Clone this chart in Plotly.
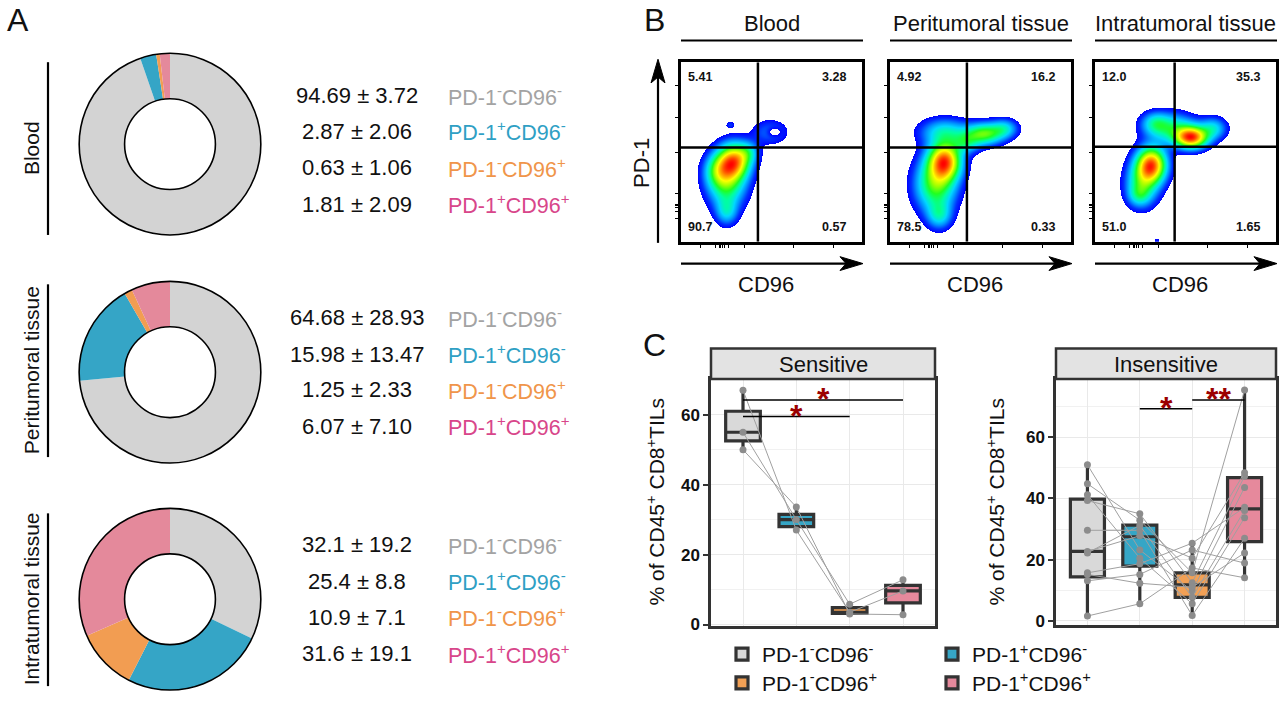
import numpy as np
import plotly.graph_objects as go

W, H = 1280, 704
def fx(px): return px / W
def fy(py): return 1 - py / H

FONT = "Liberation Sans, Arial, sans-serif"

# ---------------- Panel A data ----------------
subsets = ["PD-1<sup>-</sup>CD96<sup>-</sup>", "PD-1<sup>+</sup>CD96<sup>-</sup>",
           "PD-1<sup>-</sup>CD96<sup>+</sup>", "PD-1<sup>+</sup>CD96<sup>+</sup>"]
tissues = ["Blood", "Peritumoral tissue", "Intratumoral tissue"]
blood_mean = [94.69, 2.87, 0.63, 1.81]
blood_sd = [3.72, 2.06, 1.06, 2.09]
peri_mean = [64.68, 15.98, 1.25, 6.07]
peri_sd = [28.93, 13.47, 2.33, 7.10]
intra_mean = [32.1, 25.4, 10.9, 31.6]
intra_sd = [19.2, 8.8, 7.1, 19.1]
decimals = [2, 2, 1]

slice_colors = ["#d3d3d3", "#35a5c6", "#f29d52", "#e4899b"]
label_colors = ["#a3a3a3", "#2fa0c4", "#f0954a", "#d8468a"]

# ---------------- Panel B data ----------------
flow_titles = ["Blood", "Peritumoral tissue", "Intratumoral tissue"]
# quadrant percentages: upper-left, upper-right, lower-left, lower-right
blood_quads = ["5.41", "3.28", "90.7", "0.57"]
peri_quads = ["4.92", "16.2", "78.5", "0.33"]
intra_quads = ["12.0", "35.3", "51.0", "1.65"]
# gate positions (axis units 0-100)
gate_x = [42.5, 42.5, 44.0]
gate_y = [52.5, 52.5, 53.0]
# density blobs: (cx, cy, sx, sy, amplitude)
blood_blobs = [(29, 45, 6, 6.5, 1.0), (25, 33, 7, 9, 0.6), (25, 17, 4, 5, 0.3),
               (20, 40, 5, 6, 0.35), (37, 50, 4, 4, 0.25), (49, 61, 6.5, 4.5, 0.2),
               (51, 61, 2.5, 1.8, -0.18), (27, 65, 1.8, 1.4, 0.12)]
peri_blobs = [(30, 45, 6, 7, 1.0), (25, 32, 7.5, 10, 0.6), (27, 15, 4.5, 5, 0.3),
              (52, 60, 7, 4, 0.6), (63, 63, 5, 3.5, 0.3), (30, 61, 9, 5, 0.35),
              (42, 55, 5, 4, 0.3)]
intra_blobs = [(31, 43, 5.5, 6.5, 0.95), (26, 33, 6, 8, 0.45), (24, 26, 4, 4, 0.2),
               (53, 58, 6, 4, 1.0), (42, 63, 9, 5.5, 0.4), (65, 63, 5, 4, 0.3),
               (33, 66, 5, 4, 0.25), (34, 1, 1.5, 1.2, 0.08)]
flow_yticks = [13, 17, 19, 20, 21, 27, 50, 69, 87]
flow_xticks = [11, 19, 21, 22, 23, 24, 26, 35, 62, 84]

# ---------------- Panel C data ----------------
positions = [1, 2, 3, 4]
# box statistics: lower whisker, Q1, median, Q3, upper whisker
sens_low = [50, 27, 2.8, 2.8]
sens_q1 = [52.5, 28, 3.2, 6.2]
sens_med = [55, 30, 3.5, 9.6]
sens_q3 = [61, 31.5, 4.8, 11.2]
sens_high = [67, 33.6, 5.8, 12.8]
insens_low = [1.6, 5.6, 1.8, 14.1]
insens_q1 = [14.4, 17.9, 7.7, 25.9]
insens_med = [22.7, 27.5, 11.8, 36.6]
insens_q3 = [39.8, 31.3, 15.7, 46.8]
insens_high = [51, 35, 25.4, 75.4]
# paired samples (per subset)
sens_nn = [67, 55, 50]
sens_pn = [27, 30, 33.6]
sens_np = [3.5, 5.8, 3.0]
sens_pp = [9.6, 12.8, 2.8]
ins_nn = [51, 44.8, 41.2, 39.3, 29.6, 22.7, 22.2, 15.7, 15.2, 13.1, 1.6]
ins_pn = [23.2, 32.9, 20.5, 35, 29.6, 27.8, 31.2, 18.7, 12.3, 15.2, 5.6]
ins_np = [9.8, 15.7, 5.6, 12.5, 1.8, 20.5, 7.7, 25.4, 11.0, 23.2, 17.3]
ins_pp = [43.6, 75.4, 33.7, 47.3, 27.0, 48.4, 36.1, 37.1, 22.2, 18.9, 14.1]
box_fill = ["#d9d9d9", "#36a6c6", "#f2a055", "#e6899c"]
# significance brackets: (x start, x end, y, label)
sens_sig = [(1, 4, 64.2, "*"), (1, 3, 59.5, "*")]
insens_sig = [(2, 3, 69.3, "*"), (3, 4, 72.2, "**")]

fig = go.Figure()
shapes = []
ann = []

def A(x, y, text, size=20, color="#111", xanchor="center", yanchor="middle", angle=0, bold=False,
      xref="paper", yref="paper", yshift=0):
    ann.append(dict(x=x, y=y, xref=xref, yref=yref, text=text, showarrow=False,
                    xanchor=xanchor, yanchor=yanchor, textangle=angle, yshift=yshift,
                    font=dict(family=FONT, size=size, color=color, weight="bold" if bold else "normal")))

def pline(x0, y0, x1, y1, w=2, color="black"):
    shapes.append(dict(type="line", xref="paper", yref="paper", x0=fx(x0), y0=fy(y0),
                       x1=fx(x1), y1=fy(y1), line=dict(color=color, width=w)))

# ---------------- Panel A ----------------
means = [blood_mean, peri_mean, intra_mean]
sds = [blood_sd, peri_sd, intra_sd]
centers_y = [146, 377, 607]
row_y = [[97, 133, 170, 207], [322, 359, 395, 432], [552, 589, 625, 662]]
vline = [(63, 238), (288, 463), (520, 695)]
label_y = [150, 375, 607]
R = 92
for t in range(3):
    cy = centers_y[t]
    dom = dict(x=[fx(170 - R), fx(170 + R)], y=[fy(cy + R), fy(cy - R)])
    fig.add_trace(go.Pie(values=means[t], labels=subsets, hole=0.5, sort=False,
                         direction="clockwise", rotation=0, textinfo="none",
                         marker=dict(colors=slice_colors, line=dict(width=0)),
                         domain=dom, showlegend=False, hoverinfo="skip"))
    fig.add_trace(go.Pie(values=[1], labels=["ring"], hole=0.5, sort=False, textinfo="none",
                         marker=dict(colors=["rgba(0,0,0,0)"], line=dict(color="black", width=1.6)),
                         domain=dom, showlegend=False, hoverinfo="skip"))
    for i in range(4):
        d = decimals[t]
        A(fx(357), fy(row_y[t][i]), f"{means[t][i]:.{d}f} ± {sds[t][i]:.{d}f}", size=22, color="#111")
        A(fx(446), fy(row_y[t][i]), subsets[i], size=21.5, color=label_colors[i], xanchor="left")
    pline(48, vline[t][0], 48, vline[t][1], w=2.2)
    A(fx(31), fy(label_y[t]), tissues[t], size=21, angle=-90)

A(fx(18), fy(20), "A", size=32)
A(fx(654), fy(20), "B", size=32)
A(fx(654), fy(349), "C", size=32)

# ---------------- Panel B ----------------
gx = np.linspace(0, 100, 182)
gy = np.linspace(0, 100, 182)
X, Y = np.meshgrid(gx, gy)

def density(blobs):
    d = np.zeros_like(X)
    for cx, cy, sx, sy, a in blobs:
        d += a * np.exp(-((X - cx) ** 2 / (2 * sx ** 2) + (Y - cy) ** 2 / (2 * sy ** 2)))
    return d

jet = [[0, "#0000ff"], [0.12, "#0030ff"], [0.26, "#0090ff"], [0.38, "#00d8ff"],
       [0.50, "#00ffa0"], [0.60, "#20ff20"], [0.70, "#a0ff00"], [0.79, "#ffff00"],
       [0.89, "#ff9000"], [1, "#ff0000"]]
thr = 0.05
gamma = 0.45
flow_frames = [(681, 862), (890, 1071), (1095, 1276)]
flow_top, flow_bot = 63, 245
all_blobs = [blood_blobs, peri_blobs, intra_blobs]
all_quads = [blood_quads, peri_quads, intra_quads]
for k in range(3):
    d = density(all_blobs[k])
    z = d / d.max()
    z = np.where(z < thr, np.nan, np.clip(z, thr, 1) ** gamma)
    xa = "x" if k == 0 else f"x{k+1}"
    ya = "y" if k == 0 else f"y{k+1}"
    fig.add_trace(go.Heatmap(x=gx, y=gy, z=z, colorscale=jet, zmin=thr ** gamma, zmax=1,
                             showscale=False, hoverinfo="skip", xaxis=xa, yaxis=ya))
    l, r = flow_frames[k]
    axcommon = dict(range=[0, 100], showgrid=False, zeroline=False, showticklabels=False,
                    ticks="outside", ticklen=3, tickwidth=1, tickcolor="black",
                    showline=True, mirror=True, linecolor="black", linewidth=2.5)
    fig.layout[("xaxis" if k == 0 else f"xaxis{k+1}")] = dict(axcommon, domain=[fx(l), fx(r)],
                                                             anchor=ya, tickvals=flow_xticks)
    fig.layout[("yaxis" if k == 0 else f"yaxis{k+1}")] = dict(axcommon, domain=[fy(flow_bot), fy(flow_top)],
                                                             anchor=xa, tickvals=flow_yticks)
    shapes.append(dict(type="line", xref=xa, yref=ya, x0=gate_x[k], x1=gate_x[k], y0=0, y1=100,
                       line=dict(color="black", width=2.5)))
    shapes.append(dict(type="line", xref=xa, yref=ya, x0=0, x1=100, y0=gate_y[k], y1=gate_y[k],
                       line=dict(color="black", width=2.5)))
    q = all_quads[k]
    A(2.5, 92, q[0], size=12.5, bold=True, xanchor="left", xref=xa, yref=ya)
    A(92, 92, q[1], size=12.5, bold=True, xanchor="right", xref=xa, yref=ya)
    A(2.5, 8, q[2], size=12.5, bold=True, xanchor="left", xref=xa, yref=ya)
    A(92, 8, q[3], size=12.5, bold=True, xanchor="right", xref=xa, yref=ya)
    # title + underline
    A(fx((l + r) / 2), fy(24), flow_titles[k], size=22)
    pline(l, 41, r + 1, 41, w=2.2)
    # CD96 arrow
    pline(l, 267, r - 14, 267, w=2.2)
    shapes.append(dict(type="path", xref="paper", yref="paper", fillcolor="black",
                       line=dict(color="black", width=1),
                       path=f"M {fx(r+1)} {fy(267)} L {fx(r-22)} {fy(260)} L {fx(r-16)} {fy(267)} L {fx(r-22)} {fy(274)} Z"))
    A(fx((l + r) / 2 - 6), fy(288), "CD96", size=22)

# PD-1 arrow
pline(658, 246, 658, 78, w=2.2)
shapes.append(dict(type="path", xref="paper", yref="paper", fillcolor="black",
                   line=dict(color="black", width=1),
                   path=f"M {fx(658)} {fy(60)} L {fx(651)} {fy(84)} L {fx(658)} {fy(78)} L {fx(665)} {fy(84)} Z"))
A(fx(642), fy(165), "PD-1", size=22, angle=-90)

# ---------------- Panel C ----------------
panels = [
    dict(xa="x4", ya="y4", l=711, r=935, top=384, bot=634, rng=[-0.4, 70.2], title="Sensitive",
         low=sens_low, q1=sens_q1, med=sens_med, q3=sens_q3, high=sens_high,
         samples=list(zip(sens_nn, sens_pn, sens_np, sens_pp)), sig=sens_sig, ytitle_x=656),
    dict(xa="x5", ya="y5", l=1056, r=1276, top=384, bot=633, rng=[-1.3, 79], title="Insensitive",
         low=insens_low, q1=insens_q1, med=insens_med, q3=insens_q3, high=insens_high,
         samples=list(zip(ins_nn, ins_pn, ins_np, ins_pp)), sig=insens_sig, ytitle_x=996),
]
for pi, p in enumerate(panels):
    for i in range(4):
        fig.add_trace(go.Box(x=[positions[i]], q1=[p["q1"][i]], median=[p["med"][i]], q3=[p["q3"][i]],
                             lowerfence=[p["low"][i]], upperfence=[p["high"][i]],
                             width=0.65, whiskerwidth=0, fillcolor=box_fill[i],
                             line=dict(color="#333333", width=3.2), name=subsets[i],
                             showlegend=(pi == 0), legend=("legend" if i < 2 else "legend2"),
                             boxpoints=False, hoverinfo="skip", xaxis=p["xa"], yaxis=p["ya"]))
    for s in p["samples"]:
        fig.add_trace(go.Scatter(x=positions, y=list(s), mode="lines+markers",
                                 line=dict(color="#a0a0a0", width=1),
                                 marker=dict(color="#8c8c8c", size=7),
                                 showlegend=False, hoverinfo="skip", xaxis=p["xa"], yaxis=p["ya"]))
    xkey = "xaxis" + p["xa"][1:]
    ykey = "yaxis" + p["ya"][1:]
    fig.layout[xkey] = dict(domain=[fx(p["l"]), fx(p["r"])], range=[0.4, 4.6], anchor=p["ya"],
                            tickvals=positions, showticklabels=False, ticks="",
                            showgrid=True, gridcolor="#e9e9e9", gridwidth=1.3, zeroline=False,
                            showline=True, mirror=True, linecolor="#333333", linewidth=2.5)
    fig.layout[ykey] = dict(domain=[fy(p["bot"]), fy(p["top"])], range=p["rng"], anchor=p["xa"],
                            tickvals=[0, 20, 40, 60], ticks="outside", ticklen=5, tickwidth=1.5,
                            tickcolor="#333333",
                            tickfont=dict(family=FONT, size=17, color="#111", weight="bold"),
                            showgrid=True, gridcolor="#e9e9e9", gridwidth=1.3, zeroline=False,
                            minor=dict(tickvals=[10, 30, 50, 70], showgrid=True, gridcolor="#f1f1f1",
                                       gridwidth=0.8, ticks=""),
                            showline=True, mirror=True, linecolor="#333333", linewidth=2.5)
    # strip
    shapes.append(dict(type="rect", xref="paper", yref="paper", x0=fx(p["l"]), x1=fx(p["r"]),
                       y0=fy(p["top"]), y1=fy(353), fillcolor="#e3e3e3",
                       line=dict(color="#333333", width=2.5)))
    A(fx((p["l"] + p["r"]) / 2), fy(369), p["title"], size=22)
    A(fx(p["ytitle_x"]), fy(509), "% of CD45<sup>+</sup> CD8<sup>+</sup>TILs", size=21, angle=-90)
    for x0, x1, yv, lab in p["sig"]:
        shapes.append(dict(type="line", xref=p["xa"], yref=p["ya"], x0=x0, x1=x1, y0=yv, y1=yv,
                           line=dict(color="black", width=1.5)))
        A((x0 + x1) / 2, yv, lab, size=32, color="#9b0000", bold=True, xref=p["xa"], yref=p["ya"],
          yshift=1)

legend_common = dict(orientation="h", xanchor="left", yanchor="middle", entrywidth=165,
                     entrywidthmode="pixels", bgcolor="rgba(0,0,0,0)", traceorder="normal",
                     font=dict(family=FONT, size=21, color="#111"))
fig.update_layout(
    width=W, height=H, margin=dict(l=0, r=0, t=0, b=0),
    paper_bgcolor="white", plot_bgcolor="white",
    font=dict(family=FONT, color="#111"),
    shapes=shapes, annotations=ann,
    legend=dict(legend_common, x=fx(722), y=fy(663)),
    legend2=dict(legend_common, x=fx(722), y=fy(692)),
)
fig.write_html("out.html", config={"displayModeBar": False},
               post_script="document.body.style.margin='0';document.body.style.overflow='hidden';")
